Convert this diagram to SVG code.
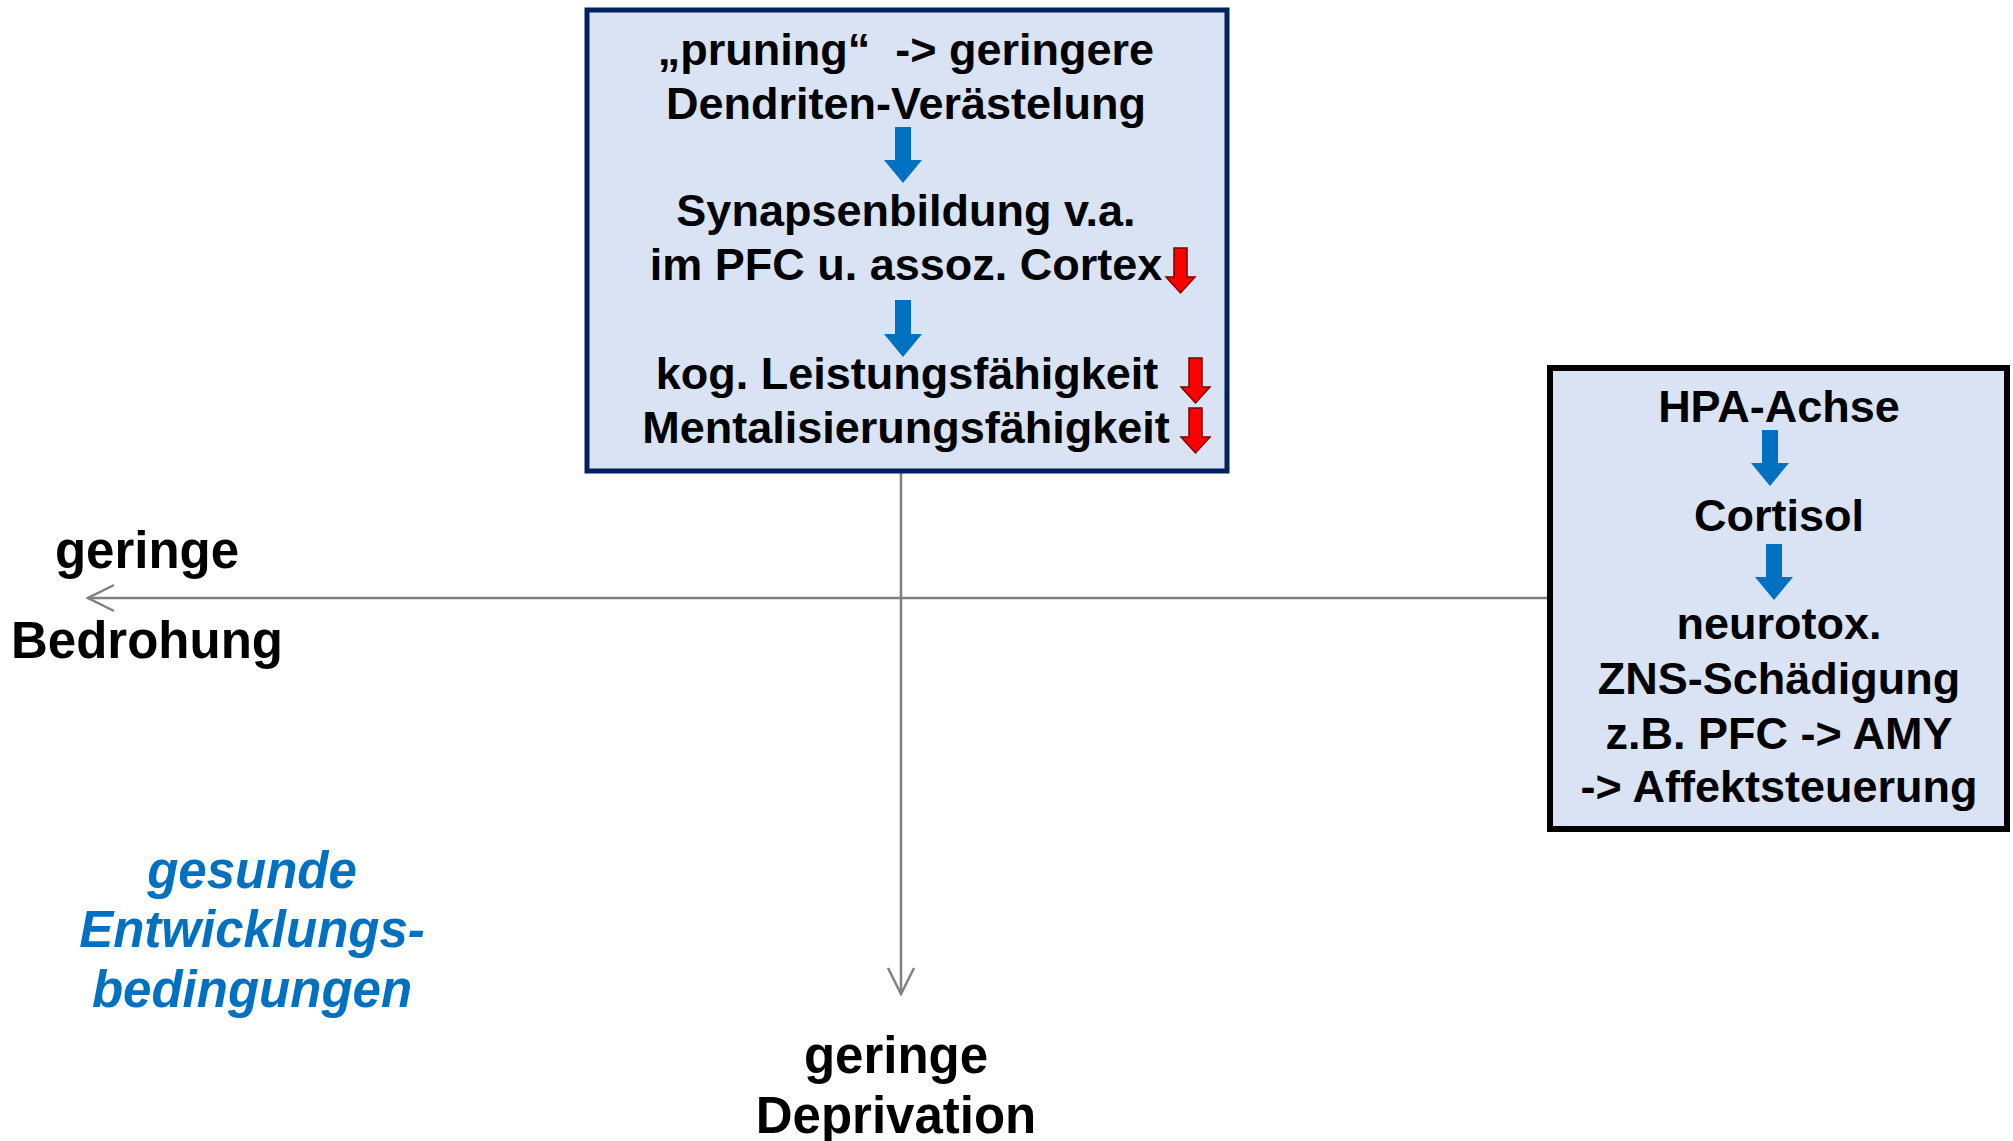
<svg xmlns="http://www.w3.org/2000/svg" width="2013" height="1141" viewBox="0 0 2013 1141">
<defs>
<style>
.t{font-family:"Liberation Sans",Arial,sans-serif;font-weight:bold;font-size:45px;fill:#000;text-anchor:middle;white-space:pre}
.l{font-family:"Liberation Sans",Arial,sans-serif;font-weight:bold;font-size:51px;fill:#000;text-anchor:middle}
.i{font-family:"Liberation Sans",Arial,sans-serif;font-weight:bold;font-style:italic;font-size:51px;fill:#0070C0;text-anchor:middle}
.ax{stroke:#808080;stroke-width:2.5;fill:none}
.ba{fill:#0070C0}
.ra{fill:#FF0000;stroke:#7A0000;stroke-width:1.5}
</style>
<marker id="open" viewBox="0 0 30 30" refX="28" refY="15" markerWidth="30" markerHeight="30" markerUnits="userSpaceOnUse" orient="auto">
<path d="M2,2 L28,15 L2,28" fill="none" stroke="#808080" stroke-width="2.5"/>
</marker>
</defs>
<rect width="2013" height="1141" fill="#fff"/>
<g id="connectors">
<line class="ax" x1="1550" y1="598" x2="88" y2="598" marker-end="url(#open)"/>
<line class="ax" x1="901" y1="471" x2="901" y2="994" marker-end="url(#open)"/>
</g>
<g id="top-box">
<rect x="587" y="10" width="640" height="461" fill="#DAE3F3" stroke="#002060" stroke-width="5"/>
<text class="t" x="906" y="65">„pruning“  -&gt; geringere</text>
<text class="t" x="906" y="119">Dendriten-Verästelung</text>
<path class="ba" d="M895,127 H911 V160 H922 L903,183 L884,160 H895 Z"/>
<text class="t" x="906" y="226">Synapsenbildung v.a.</text>
<text class="t" x="906" y="280">im PFC u. assoz. Cortex</text>
<path class="ra" d="M1174,248 H1187 V277 H1195 L1180.5,293 L1166,277 H1174 Z"/>
<path class="ba" d="M895,300 H911 V334 H922 L903,357 L884,334 H895 Z"/>
<text class="t" x="907" y="389">kog. Leistungsfähigkeit</text>
<path class="ra" d="M1189,358 H1202 V387 H1210 L1195.5,403 L1181,387 H1189 Z"/>
<text class="t" x="906" y="443">Mentalisierungsfähigkeit</text>
<path class="ra" d="M1189,408 H1202 V437 H1210 L1195.5,453 L1181,437 H1189 Z"/>
</g>
<g id="right-box">
<rect x="1550" y="368" width="457" height="461" fill="#DAE3F3" stroke="#000" stroke-width="6"/>
<text class="t" x="1779" y="422">HPA-Achse</text>
<path class="ba" d="M1762,430 H1778 V463 H1789 L1770,486 L1751,463 H1762 Z"/>
<text class="t" x="1779" y="531">Cortisol</text>
<path class="ba" d="M1766,544 H1782 V577 H1793 L1774,600 L1755,577 H1766 Z"/>
<text class="t" x="1779" y="639">neurotox.</text>
<text class="t" x="1779" y="694">ZNS-Schädigung</text>
<text class="t" x="1779" y="749">z.B. PFC -&gt; AMY</text>
<text class="t" x="1779" y="802">-&gt; Affektsteuerung</text>
</g>
<g id="label-bedrohung">
<text class="l" x="147" y="568">geringe</text>
<text class="l" x="147" y="658">Bedrohung</text>
</g>
<g id="label-deprivation">
<text class="l" x="896" y="1073">geringe</text>
<text class="l" x="896" y="1133">Deprivation</text>
</g>
<g id="label-gesund">
<text class="i" x="252" y="888">gesunde</text>
<text class="i" x="252" y="947">Entwicklungs-</text>
<text class="i" x="252" y="1007">bedingungen</text>
</g>
</svg>
